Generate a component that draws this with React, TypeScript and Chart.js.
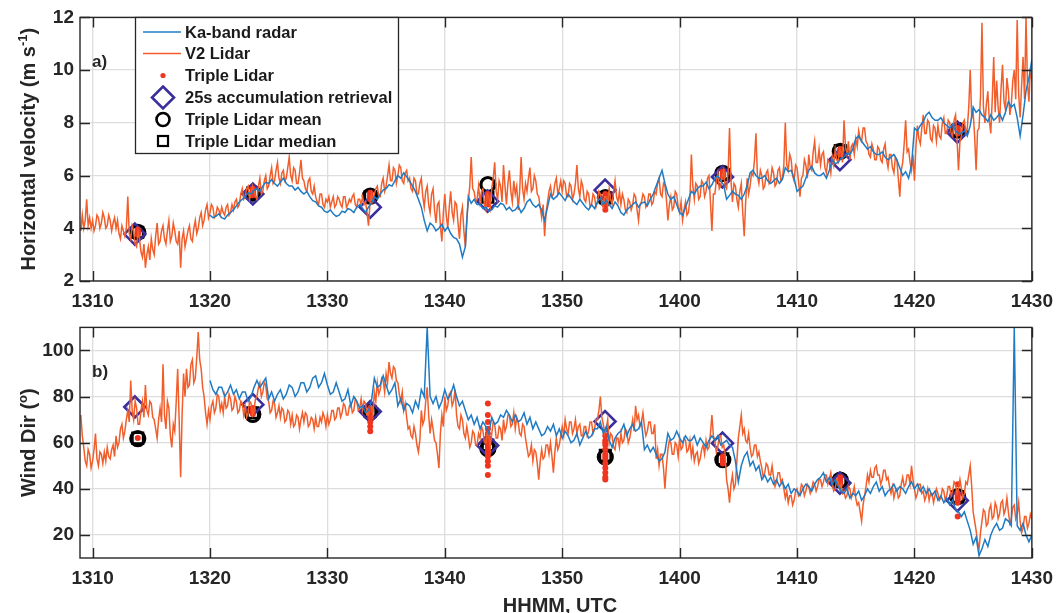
import React, { useEffect, useRef } from "react";
import { Chart, registerables } from "chart.js";

Chart.register(...registerables);

// Time axis is minutes after 13:00 UTC
const X_MIN = 8.93;
const X_MAX = 90;
const xTickMinutes = [10, 20, 30, 40, 50, 60, 70, 80, 90];
const xTickLabels = ["1310", "1320", "1330", "1340", "1350", "1400", "1410", "1420", "1430"];
const speedTicks = [2, 4, 6, 8, 10, 12];
const dirTicks = [20, 40, 60, 80, 100];

const LIDAR_START = 9;
const LIDAR_STEP = 0.125;
const RADAR_START = 20;
const RADAR_STEP = 0.25;

// V2 lidar horizontal speed (m/s), one row per minute from 13:09
const lidarSpeed = [
  3.9, 4.5, 4.0, 4.3, 5.1, 4.1, 4.4, 4.0,
  4.3, 3.9, 4.1, 4.5, 4.4, 4.0, 4.2, 4.6,
  4.4, 4.0, 4.1, 4.5, 4.3, 3.9, 4.2, 4.4,
  4.0, 4.3, 3.8, 3.6, 4.1, 3.9, 3.7, 4.0,
  5.2, 3.8, 3.6, 4.1, 3.9, 3.4, 3.3, 3.9,
  3.6, 3.1, 2.9, 3.4, 2.5, 3.0, 3.3, 2.8,
  3.6, 3.2, 3.0, 3.7, 4.2, 3.4, 3.5, 3.9,
  4.1, 3.6, 3.4, 3.9, 4.3, 3.5, 3.7, 4.2,
  3.9, 3.5, 3.4, 3.9, 2.5, 3.6, 3.9, 3.3,
  3.6, 3.9, 4.1, 3.6, 3.5, 4.0, 4.3, 3.8,
  4.0, 4.4, 4.6, 4.1, 4.3, 4.7, 4.9, 4.4,
  4.6, 4.9, 4.8, 4.4, 4.5, 4.8, 4.7, 4.5,
  4.8, 4.6, 4.5, 4.8, 4.9, 4.5, 4.6, 4.9,
  4.7, 5.0, 5.1, 4.8, 4.9, 5.3, 5.5, 5.1,
  5.2, 5.5, 5.6, 5.1, 5.3, 5.6, 5.4, 5.2,
  5.1, 5.6, 5.9, 5.3, 5.4, 5.8, 6.0, 5.5,
  5.6, 6.0, 6.3, 5.7, 5.8, 6.2, 6.5, 5.9,
  5.7, 6.1, 6.2, 5.8, 5.9, 6.3, 6.7, 6.0,
  5.8, 6.3, 6.2, 5.7, 5.7, 6.1, 6.6, 5.9,
  5.8, 5.5, 5.4, 5.8, 5.9, 5.4, 5.3, 5.6,
  5.2, 5.0, 4.9, 5.3, 5.3, 4.9, 4.8, 5.1,
  5.0, 5.2, 4.8, 5.0, 5.2, 4.8, 4.9, 5.2,
  5.1, 4.9, 4.8, 5.2, 5.2, 4.8, 4.9, 5.1,
  5.0, 5.2, 5.3, 4.9, 4.8, 5.1, 5.1, 4.9,
  5.2, 4.9, 5.0, 4.6, 4.1, 4.9, 5.3, 5.0,
  5.3, 5.5, 5.6, 5.2, 5.2, 5.7, 5.9, 5.4,
  5.6, 6.0, 6.4, 5.8, 5.8, 6.3, 6.2, 5.7,
  6.0, 6.4, 6.3, 5.8, 5.7, 6.1, 6.2, 5.8,
  5.9, 5.5, 5.4, 5.9, 5.8, 5.3, 5.3, 5.7,
  5.9, 5.2, 4.8, 5.4, 5.6, 4.9, 4.6, 5.3,
  5.5, 4.7, 4.2, 4.9, 5.0, 4.1, 3.5, 4.6,
  5.3, 4.5, 4.0, 4.8, 5.4, 4.6, 4.3, 5.0,
  4.9, 4.2, 3.6, 4.5, 4.8, 3.9, 3.3, 4.4,
  5.0, 5.6, 6.7, 5.5, 5.4, 5.0, 5.1, 5.6,
  5.0, 5.4, 5.5, 4.9, 4.7, 5.3, 5.2, 4.8,
  5.5, 5.9, 6.5, 5.4, 5.1, 5.8, 5.6, 5.0,
  6.4, 5.6, 4.9, 5.7, 6.2, 5.4, 5.0, 5.8,
  5.3, 5.6, 4.7, 5.4, 6.7, 5.5, 5.1, 5.7,
  5.4, 5.9, 6.3, 5.4, 5.5, 6.0, 5.8, 5.3,
  5.2, 4.8, 4.4, 4.9, 3.7, 4.6, 5.0, 5.4,
  5.6, 5.2, 5.3, 5.7, 5.9, 5.3, 5.5, 5.8,
  5.4, 5.8, 5.7, 5.2, 5.2, 5.7, 5.6, 5.1,
  5.3, 5.7, 6.4, 5.5, 5.2, 5.8, 5.6, 5.1,
  5.0, 5.4, 5.3, 4.8, 4.9, 5.3, 5.2, 4.8,
  5.0, 5.4, 5.3, 4.9, 4.8, 5.2, 5.2, 4.9,
  5.5, 5.1, 4.9, 5.4, 5.8, 5.2, 5.0, 5.4,
  4.9, 5.3, 5.1, 4.7, 4.6, 5.1, 5.0, 4.7,
  4.9, 5.3, 5.2, 4.7, 4.3, 4.9, 5.0, 5.3,
  5.2, 4.8, 4.9, 5.3, 5.3, 4.9, 5.0, 5.4,
  5.3, 5.7, 5.9, 5.3, 5.2, 5.7, 5.6, 5.1,
  4.3, 4.9, 5.2, 4.7, 4.8, 5.4, 5.3, 4.8,
  4.6, 5.0, 4.3, 4.7, 5.0, 4.5, 4.6, 5.1,
  6.8, 5.6, 5.1, 5.7, 5.6, 5.1, 5.2, 5.8,
  5.7, 5.2, 5.4, 5.9, 6.0, 5.0, 3.9, 5.3,
  5.3, 5.8, 6.1, 5.5, 5.6, 6.0, 6.2, 5.6,
  5.5, 6.1, 7.8, 5.8, 5.0, 5.7, 5.6, 5.1,
  4.8, 5.4, 5.7, 4.6, 3.7, 5.0, 5.9, 5.3,
  5.6, 6.1, 6.0, 6.6, 7.6, 6.0, 5.7, 6.2,
  6.0, 5.5, 5.6, 6.1, 6.2, 5.7, 5.8, 6.3,
  6.1, 5.6, 5.7, 6.2, 6.3, 5.8, 5.9, 6.4,
  8.0, 6.4, 6.2, 6.8, 6.6, 6.0, 5.8, 6.4,
  6.3, 5.8, 5.2, 5.9, 6.0, 6.6, 6.4, 5.9,
  6.8, 6.3, 6.2, 6.9, 7.3, 6.5, 6.5, 7.0,
  6.4, 6.8, 6.9, 6.3, 6.1, 6.6, 6.5, 6.1,
  6.7, 6.4, 7.0, 6.6, 6.5, 7.0, 6.9, 6.5,
  8.1, 7.1, 6.8, 7.3, 6.6, 7.1, 7.2, 6.8,
  7.4, 7.1, 7.7, 7.4, 7.3, 7.8, 7.8, 7.3,
  7.2, 6.8, 6.7, 7.2, 7.0, 6.6, 6.6, 7.1,
  7.0, 6.6, 6.5, 7.0, 7.2, 6.6, 6.3, 6.8,
  6.8, 6.3, 6.1, 6.7, 6.6, 5.9, 5.2, 6.2,
  6.5, 7.2, 8.1, 6.9, 7.0, 6.5, 6.2, 6.8,
  5.8, 7.1, 7.9, 7.4, 7.2, 7.8, 8.3, 7.6,
  7.6, 8.1, 8.0, 7.4, 7.3, 7.9, 7.8, 7.3,
  7.9, 7.5, 7.4, 8.0, 8.2, 7.6, 7.6, 8.1,
  8.0, 7.6, 7.5, 8.1, 8.3, 7.4, 6.2, 7.3,
  7.5, 8.0, 8.1, 7.6, 7.8, 8.6, 10.0, 8.2,
  8.4, 7.5, 6.2, 7.7, 7.8, 9.0, 11.8, 8.6,
  8.0, 8.7, 9.2, 8.1, 7.6, 8.9, 10.5, 8.4,
  9.6, 8.6, 8.0, 9.3, 10.2, 8.8, 8.5, 9.7,
  9.2, 8.3, 8.7, 9.6, 10.0, 8.9, 11.9, 9.1,
  8.2, 9.4, 10.5, 8.9, 12.0, 9.5, 8.8, 10.1,
  9.6,
];

// Ka-band radar horizontal speed (m/s), one row per minute from 13:20
const radarSpeed = [
  4.5, 4.4, 4.45, 4.55,
  4.4, 4.35, 4.5, 4.6,
  4.7, 4.85, 5.0, 5.1,
  5.2, 5.35, 5.3, 5.45,
  5.5, 5.4, 5.6, 5.75,
  5.7, 5.85, 5.7, 5.6,
  5.75, 5.9, 5.7, 5.6,
  5.6, 5.45, 5.55, 5.4,
  5.3, 5.4, 5.2, 5.05,
  5.0, 4.85, 4.8, 4.65,
  4.6, 4.7, 4.55, 4.45,
  4.5, 4.65, 4.6, 4.75,
  4.7, 4.6, 4.8, 4.9,
  4.75, 4.6, 4.8, 4.95,
  5.2, 5.1, 5.3, 5.45,
  5.5, 5.65, 5.6, 5.8,
  6.0, 5.9, 6.1, 5.95,
  5.8, 5.6, 5.4, 5.1,
  4.8, 4.3, 3.9, 4.2,
  4.1, 3.9, 4.0, 4.15,
  3.9, 4.05, 3.8, 3.65,
  3.6, 3.4, 2.9, 3.3,
  5.2, 4.95, 5.1, 4.9,
  4.9, 4.75, 4.8, 4.65,
  4.7, 4.85, 4.8, 4.95,
  4.9, 4.7, 4.8, 4.65,
  4.7, 4.85, 4.6, 4.75,
  5.0, 5.1, 4.9, 4.8,
  4.9, 4.7, 4.3, 4.8,
  5.3, 5.1, 5.2, 5.35,
  5.2, 5.05, 5.3, 5.15,
  5.0, 4.9, 5.1, 4.95,
  4.8, 4.7, 4.9, 4.75,
  5.0, 5.15, 4.9, 5.05,
  4.9, 4.75, 5.0, 4.85,
  4.6, 4.5, 4.7, 4.8,
  4.9, 5.0, 4.8, 4.95,
  5.0, 4.85, 5.1, 5.3,
  5.6, 5.9, 6.2, 5.7,
  5.3, 5.1, 5.2, 4.9,
  4.6, 4.5, 4.8, 5.1,
  5.4, 5.3, 5.5, 5.6,
  5.6, 5.75, 5.5, 5.65,
  5.9, 6.0, 5.8, 5.65,
  5.1, 5.25, 5.4, 5.3,
  5.25, 5.1, 5.3, 5.6,
  6.1, 6.2, 6.0, 5.9,
  5.9, 6.0, 5.8, 5.7,
  5.8, 5.9, 5.7, 5.85,
  6.3, 6.15, 6.2, 5.9,
  5.4, 5.5, 5.6, 5.9,
  6.2, 6.35, 6.1, 6.0,
  6.0, 6.1, 5.9, 6.2,
  6.6, 6.45, 6.5, 6.65,
  6.7, 6.85, 6.8, 7.0,
  7.4, 7.5, 7.3, 7.15,
  7.0, 7.1, 6.9, 6.8,
  6.8, 6.9, 6.7, 6.6,
  6.7, 6.8, 6.6, 6.3,
  6.0, 6.15, 5.9, 6.4,
  7.8, 7.7, 7.9, 8.05,
  8.3, 8.4, 8.2, 8.1,
  8.1, 8.2, 8.0, 7.9,
  7.8, 7.95, 7.7, 7.6,
  7.6, 7.7, 7.5, 7.9,
  8.6, 8.4, 8.5, 8.3,
  8.2, 8.05, 8.3, 8.1,
  8.2, 8.35, 8.1, 8.4,
  8.8, 8.6, 8.7, 8.2,
  7.5, 8.3, 9.2, 9.7,
  10.4,
];

// V2 lidar wind direction (deg), one row per minute from 13:09
const lidarDir = [
  72, 63, 58, 52, 50, 57, 55, 49,
  52, 57, 64, 53, 50, 56, 55, 51,
  56, 52, 58, 54, 53, 57, 59, 54,
  63, 58, 60, 66, 68, 62, 65, 70,
  74, 69, 87, 74, 70, 78, 75, 68,
  68, 74, 78, 71, 85, 74, 72, 78,
  77, 71, 70, 66, 62, 70, 75, 69,
  94, 72, 66, 78, 75, 63, 58, 68,
  65, 78, 92, 70, 45, 72, 90, 80,
  92, 84, 85, 94, 96, 86, 88, 97,
  108, 96, 92, 84, 80, 73, 68, 74,
  70, 76, 78, 73, 75, 81, 80, 74,
  77, 73, 80, 75, 76, 81, 79, 74,
  75, 80, 78, 73, 74, 78, 77, 72,
  76, 71, 73, 78, 77, 72, 74, 79,
  80, 84, 86, 80, 82, 86, 85, 79,
  78, 73, 74, 78, 77, 71, 73, 76,
  71, 75, 74, 69, 70, 74, 73, 68,
  72, 67, 68, 72, 71, 66, 70, 73,
  69, 73, 72, 67, 68, 71, 70, 66,
  71, 67, 67, 71, 69, 73, 71, 67,
  72, 68, 70, 74, 74, 70, 71, 75,
  75, 71, 73, 77, 76, 72, 72, 76,
  77, 73, 74, 79, 78, 74, 75, 79,
  74, 78, 77, 72, 72, 76, 76, 72,
  82, 78, 86, 81, 83, 88, 87, 82,
  90, 86, 95, 90, 88, 93, 92, 87,
  86, 81, 78, 82, 74, 77, 71, 66,
  67, 63, 62, 67, 64, 59, 56, 61,
  74, 68, 70, 78, 84, 72, 64, 70,
  66, 61, 60, 55, 49, 64, 72, 67,
  80, 74, 76, 81, 82, 76, 78, 83,
  72, 67, 66, 72, 70, 64, 62, 67,
  63, 58, 60, 65, 64, 59, 59, 64,
  62, 67, 65, 60, 60, 64, 63, 58,
  64, 69, 68, 62, 62, 67, 66, 61,
  70, 65, 67, 72, 72, 67, 68, 73,
  66, 71, 69, 64, 63, 68, 67, 62,
  58, 54, 55, 59, 52, 57, 56, 51,
  44, 52, 57, 53, 54, 59, 59, 55,
  60, 54, 47, 56, 62, 57, 59, 63,
  67, 63, 70, 66, 64, 69, 69, 64,
  66, 70, 64, 67, 68, 63, 63, 67,
  67, 63, 65, 69, 69, 64, 66, 70,
  70, 74, 80, 71, 68, 64, 66, 70,
  60, 64, 63, 58, 57, 62, 62, 58,
  64, 60, 61, 66, 65, 60, 62, 66,
  70, 65, 76, 70, 72, 67, 69, 73,
  67, 63, 65, 69, 69, 64, 64, 68,
  53, 57, 50, 55, 55, 49, 40, 50,
  57, 61, 60, 55, 55, 60, 59, 54,
  62, 57, 58, 62, 61, 56, 57, 61,
  54, 58, 52, 55, 56, 51, 53, 57,
  59, 55, 61, 57, 58, 64, 72, 63,
  61, 56, 58, 63, 63, 58, 59, 55,
  44, 40, 34, 42, 46, 40, 42, 52,
  62, 67, 72, 64, 66, 61, 60, 64,
  58, 54, 55, 59, 59, 54, 56, 52,
  49, 45, 47, 51, 50, 46, 46, 50,
  45, 41, 43, 47, 47, 43, 44, 40,
  36, 39, 34, 37, 37, 33, 35, 39,
  40, 37, 38, 42, 41, 37, 39, 42,
  41, 38, 40, 43, 42, 39, 41, 44,
  44, 41, 43, 46, 46, 42, 44, 47,
  42, 39, 40, 44, 43, 40, 42, 38,
  39, 36, 37, 41, 40, 36, 38, 41,
  36, 33, 34, 30, 26, 33, 37, 41,
  46, 43, 48, 45, 45, 49, 50, 46,
  46, 42, 44, 48, 48, 44, 45, 41,
  38, 41, 36, 39, 40, 36, 37, 42,
  45, 41, 42, 46, 46, 42, 50, 44,
  40, 36, 38, 42, 42, 38, 39, 35,
  37, 40, 35, 38, 38, 34, 37, 40,
  38, 35, 36, 40, 39, 35, 37, 41,
  41, 37, 39, 43, 42, 38, 40, 44,
  40, 36, 38, 43, 42, 46, 50, 41,
  30, 26, 22, 17, 14, 21, 26, 31,
  30, 24, 25, 31, 33, 27, 28, 34,
  32, 27, 29, 34, 35, 29, 31, 36,
  30, 25, 27, 32, 33, 27, 29, 34,
  26, 21, 23, 28, 28, 23, 25, 29,
  27,
];

// Ka-band radar wind direction (deg), one row per minute from 13:20
const radarDir = [
  87, 83, 81, 84,
  84, 80, 82, 85,
  81, 83, 79, 82,
  82, 78, 80, 84,
  87, 84, 86, 88,
  79, 82, 78, 81,
  83, 79, 81, 85,
  84, 80, 82, 86,
  86, 82, 84, 88,
  89, 84, 86, 90,
  85, 81, 82, 86,
  82, 78, 79, 83,
  76, 80, 78, 75,
  76, 73, 74, 78,
  88, 84, 85, 89,
  85, 81, 83, 86,
  76, 79, 74, 77,
  76, 73, 78, 75,
  83, 80, 110, 80,
  77, 80, 75, 78,
  83, 79, 81, 85,
  80, 76, 78, 74,
  70, 72, 68, 71,
  66, 69, 67, 64,
  71, 68, 69, 72,
  71, 74, 72, 69,
  72, 69, 70, 73,
  68, 71, 66, 69,
  66, 63, 64, 67,
  65, 68, 63, 66,
  62, 65, 63, 60,
  61, 64, 59, 62,
  65, 62, 63, 66,
  66, 69, 64, 67,
  61, 58, 62, 64,
  65, 68, 63, 66,
  68, 65, 66, 69,
  57, 59, 56, 58,
  55, 52, 53, 56,
  64, 61, 62, 65,
  62, 60, 63, 61,
  61, 63, 59, 62,
  60, 58, 61, 63,
  61, 63, 59, 60,
  61, 59, 58, 52,
  43, 50, 54, 56,
  50, 52, 48, 50,
  44, 46, 43, 45,
  42, 44, 41, 43,
  40, 42, 38, 40,
  39, 37, 40, 42,
  41, 39, 42, 44,
  45, 47, 43, 45,
  42, 44, 41, 39,
  38, 40, 36, 38,
  37, 39, 35, 37,
  40, 38, 41, 43,
  39, 41, 37, 39,
  40, 42, 39, 41,
  40, 38, 41, 43,
  40, 42, 39, 41,
  38, 40, 37, 39,
  35, 37, 34, 36,
  33, 35, 31, 30,
  28, 30, 26, 22,
  16, 19, 11, 14,
  18, 15, 20, 23,
  25, 22, 23, 27,
  26, 24, 110, 24,
  22, 25, 20, 17,
  20,
];

// Ten-minute retrievals
const retrievalTimes = [13.6, 23.65, 33.65, 43.65, 53.65, 63.65, 73.65, 83.65];
const statTimes = [13.85, 23.65, 33.65, 43.67, 53.67, 63.68, 73.68, 83.68];

const retrievalSpeed = [3.78, 5.3, 4.8, 5.03, 5.45, 5.95, 6.6, 7.65];
const meanSpeed = [3.85, 5.33, 5.22, 5.66, 5.16, 6.08, 6.92, 7.72];
const medianSpeed = [3.85, 5.35, 5.2, 5.18, 5.16, 6.05, 6.95, 7.72];
const tripleSpeed = [
  [3.75, 3.8, 3.85, 3.9, 3.95],
  [5.25, 5.3, 5.35, 5.4, 5.45, 5.5],
  [5.1, 5.15, 5.2, 5.25, 5.3, 5.35],
  [4.9, 4.95, 5.0, 5.1, 5.15, 5.2, 5.3],
  [4.7, 4.85, 4.9, 5.0, 5.1, 5.2, 5.3],
  [5.95, 6.0, 6.05, 6.1, 6.15],
  [6.8, 6.85, 6.9, 6.95, 7.0],
  [7.6, 7.65, 7.7, 7.75, 7.8],
];

const retrievalDir = [75.5, 76.5, 73.5, 58.8, 69.2, 59.8, 42.5, 34.9];
const meanDir = [61.8, 72.3, 73.4, 57.4, 53.8, 52.6, 43.8, 36.6];
const medianDir = [62, 73, 73.5, 59, 54.5, 53, 43.5, 36.5];
const tripleDir = [
  [62],
  [72.5, 73.5, 74.5, 75],
  [65, 67, 69, 71, 72, 73, 74, 75],
  [77, 72, 69, 66, 64, 62, 61, 60, 59, 58, 57, 56, 55, 54, 52, 50, 46],
  [63, 61, 60, 59, 57, 55, 54, 53, 51, 49, 47, 45, 44],
  [51, 52, 53, 54],
  [42, 43, 44, 45],
  [42, 38, 37, 36, 35, 34, 28],
];

const FONT = "'Liberation Sans', Arial, Helvetica, sans-serif";
const INK = "#262626";
const RADAR_COLOR = "#1F7BC4";
const LIDAR_COLOR = "#F25E2B";
const DOT_COLOR = "#F0341F";
const DIAMOND_COLOR = "#3B2F9D";
const GRID_COLOR = "#dddddd";

const series = (start: number, step: number, vals: number[]) =>
  vals.map((y, i) => ({ x: start + i * step, y }));
const points = (times: number[], vals: number[]) => vals.map((y, i) => ({ x: times[i], y }));
const clusters = (times: number[], groups: number[][]) =>
  groups.flatMap((g, i) => g.map((y) => ({ x: times[i], y })));

function buildDatasets(
  radar: number[],
  lidar: number[],
  triple: number[][],
  retr: number[],
  mean: number[],
  median: number[]
) {
  return [
    {
      label: "Ka-band radar",
      data: series(RADAR_START, RADAR_STEP, radar),
      borderColor: RADAR_COLOR,
      borderWidth: 1.5,
      pointRadius: 0,
      tension: 0,
    },
    {
      label: "V2 Lidar",
      data: series(LIDAR_START, LIDAR_STEP, lidar),
      borderColor: LIDAR_COLOR,
      borderWidth: 1.5,
      pointRadius: 0,
      tension: 0,
    },
    {
      label: "Triple Lidar",
      data: clusters(statTimes, triple),
      showLine: false,
      pointStyle: "circle",
      pointRadius: 3,
      pointBorderWidth: 0,
      pointBackgroundColor: DOT_COLOR,
      pointBorderColor: DOT_COLOR,
    },
    {
      label: "25s accumulation retrieval",
      data: points(retrievalTimes, retr),
      showLine: false,
      pointStyle: "rectRot",
      pointRadius: 10.5,
      pointBorderWidth: 2.6,
      pointBorderColor: DIAMOND_COLOR,
      pointBackgroundColor: "rgba(0,0,0,0)",
    },
    {
      label: "Triple Lidar mean",
      data: points(statTimes, mean),
      showLine: false,
      pointStyle: "circle",
      pointRadius: 7,
      pointBorderWidth: 3.2,
      pointBorderColor: "#000000",
      pointBackgroundColor: "rgba(0,0,0,0)",
    },
    {
      label: "Triple Lidar median",
      data: points(statTimes, median),
      showLine: false,
      pointStyle: "rect",
      pointRadius: 7.5,
      pointBorderWidth: 2.5,
      pointBorderColor: "#000000",
      pointBackgroundColor: "rgba(0,0,0,0)",
    },
  ];
}

// Box around the axes with inward tick marks on all four sides
const framePlugin = {
  id: "matlabFrame",
  afterDatasetsDraw(chart: any) {
    const { ctx, chartArea: a, scales } = chart;
    const len = 10;
    ctx.save();
    ctx.strokeStyle = INK;
    ctx.lineWidth = 1.4;
    ctx.beginPath();
    scales.x.ticks.forEach((t: any) => {
      const x = Math.round(scales.x.getPixelForValue(t.value)) + 0.5;
      ctx.moveTo(x, a.bottom);
      ctx.lineTo(x, a.bottom - len);
      ctx.moveTo(x, a.top);
      ctx.lineTo(x, a.top + len);
    });
    scales.y.ticks.forEach((t: any) => {
      const y = Math.round(scales.y.getPixelForValue(t.value)) + 0.5;
      ctx.moveTo(a.left, y);
      ctx.lineTo(a.left + len, y);
      ctx.moveTo(a.right, y);
      ctx.lineTo(a.right - len, y);
    });
    ctx.stroke();
    ctx.strokeRect(a.left, a.top, a.right - a.left, a.bottom - a.top);
    ctx.restore();
  },
};

type Part = { text: string; sup?: boolean };

function drawVerticalTitle(ctx: CanvasRenderingContext2D, cx: number, cy: number, parts: Part[]) {
  ctx.save();
  ctx.translate(cx, cy);
  ctx.rotate(-Math.PI / 2);
  ctx.fillStyle = INK;
  ctx.textBaseline = "alphabetic";
  ctx.textAlign = "left";
  const fontFor = (p: Part) => (p.sup ? `bold 13px ${FONT}` : `bold 20px ${FONT}`);
  const widths = parts.map((p) => {
    ctx.font = fontFor(p);
    return ctx.measureText(p.text).width;
  });
  const total = widths.reduce((s, w) => s + w, 0);
  let x = -total / 2;
  parts.forEach((p, i) => {
    ctx.font = fontFor(p);
    ctx.fillText(p.text, x, p.sup ? -1 : 7);
    x += widths[i];
  });
  ctx.restore();
}

function annotationPlugin(
  id: string,
  panelLabel: string,
  title: Part[],
  extra?: (ctx: CanvasRenderingContext2D, chart: any) => void
) {
  return {
    id,
    afterDraw(chart: any) {
      const { ctx, chartArea: a } = chart;
      drawVerticalTitle(ctx, 28, (a.top + a.bottom) / 2, title);
      ctx.save();
      ctx.fillStyle = INK;
      ctx.font = `bold 17px ${FONT}`;
      ctx.textBaseline = "middle";
      ctx.textAlign = "left";
      ctx.fillText(panelLabel, 92, a.top + 45);
      ctx.restore();
      if (extra) extra(ctx, chart);
    },
  };
}

const legendItems = [
  "Ka-band radar",
  "V2 Lidar",
  "Triple Lidar",
  "25s accumulation retrieval",
  "Triple Lidar mean",
  "Triple Lidar median",
];

function drawLegend(ctx: CanvasRenderingContext2D) {
  const left = 135.5;
  const top = 17.5;
  const w = 263;
  const h = 136;
  const rows = [32, 53.5, 75.5, 97.5, 119.5, 141];
  const sx = 163;
  ctx.save();
  ctx.fillStyle = "#ffffff";
  ctx.fillRect(left, top, w, h);
  ctx.strokeStyle = INK;
  ctx.lineWidth = 1.3;
  ctx.strokeRect(left, top, w, h);

  // line samples
  ctx.lineWidth = 1.6;
  ctx.strokeStyle = RADAR_COLOR;
  ctx.beginPath();
  ctx.moveTo(143, rows[0]);
  ctx.lineTo(181, rows[0]);
  ctx.stroke();
  ctx.strokeStyle = LIDAR_COLOR;
  ctx.beginPath();
  ctx.moveTo(143, rows[1]);
  ctx.lineTo(181, rows[1]);
  ctx.stroke();

  // triple lidar dot
  ctx.fillStyle = DOT_COLOR;
  ctx.beginPath();
  ctx.arc(sx, rows[2], 2.6, 0, Math.PI * 2);
  ctx.fill();

  // diamond
  ctx.strokeStyle = DIAMOND_COLOR;
  ctx.lineWidth = 2.6;
  ctx.beginPath();
  ctx.moveTo(sx, rows[3] - 11);
  ctx.lineTo(sx + 11, rows[3]);
  ctx.lineTo(sx, rows[3] + 11);
  ctx.lineTo(sx - 11, rows[3]);
  ctx.closePath();
  ctx.stroke();

  // circle
  ctx.strokeStyle = "#000000";
  ctx.lineWidth = 2.6;
  ctx.beginPath();
  ctx.arc(sx, rows[4], 6.5, 0, Math.PI * 2);
  ctx.stroke();

  // square
  ctx.lineWidth = 2.2;
  ctx.strokeRect(sx - 5, rows[5] - 5, 10, 10);

  ctx.fillStyle = "#1a1a1a";
  ctx.font = `bold 16.5px ${FONT}`;
  ctx.textBaseline = "middle";
  ctx.textAlign = "left";
  legendItems.forEach((t, i) => ctx.fillText(t, 185, rows[i] + 1));
  ctx.restore();
}

function makeConfig(kind: "speed" | "dir"): any {
  const isSpeed = kind === "speed";
  const tickFont = { family: FONT, size: 19, weight: "bold" as const };
  const yTicks = isSpeed ? speedTicks : dirTicks;
  const datasets = isSpeed
    ? buildDatasets(radarSpeed, lidarSpeed, tripleSpeed, retrievalSpeed, meanSpeed, medianSpeed)
    : buildDatasets(radarDir, lidarDir, tripleDir, retrievalDir, meanDir, medianDir);

  const annotations = isSpeed
    ? annotationPlugin(
        "speedNotes",
        "a)",
        [{ text: "Horizontal velocity (m s" }, { text: "-1", sup: true }, { text: ")" }],
        (ctx) => drawLegend(ctx)
      )
    : annotationPlugin(
        "dirNotes",
        "b)",
        [{ text: "Wind Dir (" }, { text: "o", sup: true }, { text: ")" }],
        (ctx) => {
          ctx.save();
          ctx.fillStyle = INK;
          ctx.font = `bold 20px ${FONT}`;
          ctx.textAlign = "center";
          ctx.textBaseline = "alphabetic";
          ctx.fillText("HHMM, UTC", 560, 302);
          ctx.restore();
        }
      );

  return {
    type: "line",
    data: { datasets },
    options: {
      responsive: false,
      animation: false,
      events: [],
      layout: { padding: { left: 0, right: 22, top: isSpeed ? 17 : 8, bottom: 0 } },
      plugins: { legend: { display: false }, tooltip: { enabled: false } },
      scales: {
        x: {
          type: "linear",
          min: X_MIN,
          max: X_MAX,
          afterBuildTicks: (s: any) => {
            s.ticks = xTickMinutes.map((v) => ({ value: v }));
          },
          afterFit: (s: any) => {
            s.height = isSpeed ? 29 : 55;
          },
          grid: { color: GRID_COLOR, lineWidth: 1.3, drawTicks: false },
          border: { display: false },
          ticks: {
            font: tickFont,
            color: INK,
            padding: 9,
            maxRotation: 0,
            autoSkip: false,
            callback: (v: any) => {
              const i = xTickMinutes.indexOf(Number(v));
              return i >= 0 ? xTickLabels[i] : "";
            },
          },
        },
        y: {
          type: "linear",
          min: isSpeed ? 2 : 10,
          max: isSpeed ? 12 : 110,
          afterBuildTicks: (s: any) => {
            s.ticks = yTicks.map((v) => ({ value: v }));
          },
          afterFit: (s: any) => {
            s.width = 80;
          },
          grid: { color: GRID_COLOR, lineWidth: 1.3, drawTicks: false },
          border: { display: false },
          ticks: {
            font: tickFont,
            color: INK,
            padding: 6,
            callback: (v: any) => String(v),
          },
        },
      },
    },
    plugins: [framePlugin, annotations],
  };
}

export default function App() {
  const topRef = useRef<HTMLCanvasElement>(null);
  const bottomRef = useRef<HTMLCanvasElement>(null);

  useEffect(() => {
    const top = new Chart(topRef.current as HTMLCanvasElement, makeConfig("speed"));
    const bottom = new Chart(bottomRef.current as HTMLCanvasElement, makeConfig("dir"));
    return () => {
      top.destroy();
      bottom.destroy();
    };
  }, []);

  return (
    <div
      style={{
        position: "absolute",
        left: 0,
        top: 0,
        width: 1062,
        height: 613,
        background: "#ffffff",
        overflow: "hidden",
      }}
    >
      <canvas
        ref={topRef}
        width={1062}
        height={310}
        style={{ position: "absolute", left: 0, top: 0, width: 1062, height: 310 }}
      />
      <canvas
        ref={bottomRef}
        width={1062}
        height={303}
        style={{ position: "absolute", left: 0, top: 310, width: 1062, height: 303 }}
      />
    </div>
  );
}
